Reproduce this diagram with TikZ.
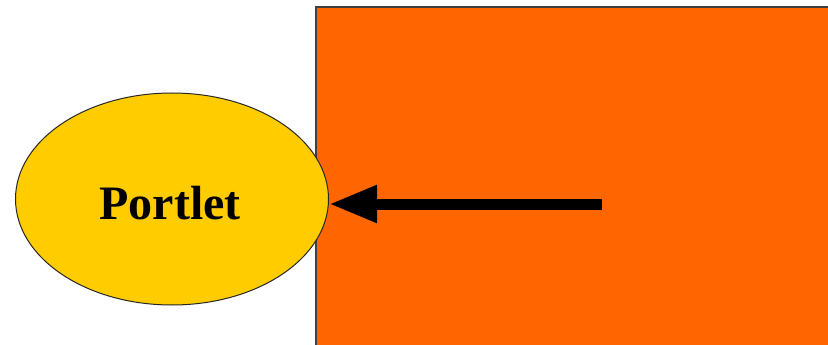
\documentclass[tikz,border=0pt]{standalone}
\usepackage{fontspec}
\setmainfont{Liberation Serif}
\usetikzlibrary{shapes.geometric,arrows.meta}
\definecolor{portletgold}{HTML}{FFCC00}
\definecolor{containerorange}{HTML}{FF6600}
\begin{document}
\begin{tikzpicture}[x=1pt,y=-1pt,
    portletnode/.style={ellipse,draw=black!85,line width=1pt,fill=portletgold,
      minimum width=313pt,minimum height=212pt,inner sep=0pt},
    callarrow/.style={line width=11pt,-{Triangle[length=48pt,width=35pt]}}]
  \useasboundingbox (0,0) rectangle (828,345);
  \clip (0,0) rectangle (828,345);
  % container block
  \draw[draw=black!75,line width=1.2pt,fill=containerorange] (316,7) rectangle (840,360);
  % portlet
  \node[portletnode] (portlet) at (172,199) {};
  \node[font=\bfseries\fontsize{48}{50}\selectfont] (portletlabel) at (170,203) {Portlet};
  % call
  \coordinate (callstart) at (602,204);
  \draw[callarrow] (callstart) -- (portlet.east |- callstart);
\end{tikzpicture}
\end{document}
